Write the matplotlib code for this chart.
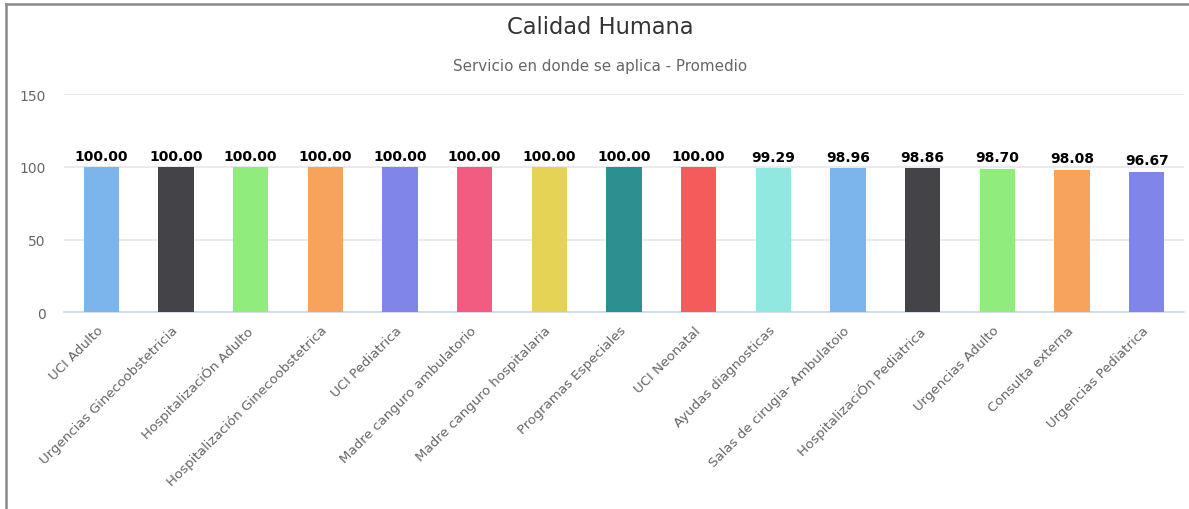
import matplotlib
matplotlib.use("Agg")
import matplotlib.pyplot as plt
from matplotlib.lines import Line2D
from matplotlib.transforms import ScaledTranslation

categories = [
    "UCI Adulto", "Urgencias Ginecoobstetricia", "HospitalizaciÓn Adulto",
    "Hospitalización Ginecoobstetrica", "UCI Pediatrica", "Madre canguro ambulatorio",
    "Madre canguro hospitalaria", "Programas Especiales", "UCI Neonatal",
    "Ayudas diagnosticas", "Salas de cirugia- Ambulatoio", "HospitalizaciÓn Pediatrica",
    "Urgencias Adulto", "Consulta externa", "Urgencias Pediatrica",
]
values = [100.00, 100.00, 100.00, 100.00, 100.00, 100.00, 100.00, 100.00, 100.00,
          99.29, 98.96, 98.86, 98.70, 98.08, 96.67]
palette = ["#7cb5ec", "#434348", "#90ed7d", "#f7a35c", "#8085e9", "#f15c80",
           "#e4d354", "#2b908f", "#f45b5b", "#91e8e1"]
colors = [palette[i % len(palette)] for i in range(len(categories))]
yticks = [0, 50, 100, 150]
title = "Calidad Humana"
subtitle = "Servicio en donde se aplica - Promedio"

plt.rcParams['font.family'] = ['DejaVu Sans']
fig = plt.figure(figsize=(11.89, 5.10), dpi=100)
ax = fig.add_axes([0.0538, 0.3857, 0.9420, 0.4280])

x = list(range(len(categories)))
bars = ax.bar(x, values, width=0.47, color=colors, zorder=3)
for xi, v in zip(x, values):
    ax.annotate(f"{v:.2f}", (xi, v), xytext=(0, 3), textcoords="offset points",
                ha="center", va="bottom", fontsize=10, fontweight="bold", color="#000000")

ax.set_xlim(-0.5, len(categories) - 0.5)
ax.set_ylim(0, 150)
ax.set_yticks(yticks)
ax.set_yticklabels([str(t) for t in yticks])
ax.yaxis.grid(True, color="#e6e6e6", linewidth=1.2, zorder=0)
ax.set_axisbelow(True)
for s in ["top", "right", "left"]:
    ax.spines[s].set_visible(False)
ax.spines["bottom"].set_color("#ccd6eb")
ax.spines["bottom"].set_linewidth(1.2)
ax.tick_params(axis="y", length=0, pad=13, labelsize=10, labelcolor="#666666")
ax.tick_params(axis="x", length=0, pad=8, labelsize=9.6, labelcolor="#666666")
ax.set_xticks(x)
ax.set_xticklabels(categories, rotation=45, ha="right", va="top", rotation_mode="anchor")
offset = ScaledTranslation(-5 / 100, 0, fig.dpi_scale_trans)
for lab in ax.get_xticklabels():
    lab.set_transform(lab.get_transform() + offset)

fig.text(0.5045, 1 - 28 / 510, title, ha="center", va="center", fontsize=16.3, color="#333333")
fig.text(0.5045, 1 - 67 / 510, subtitle, ha="center", va="center", fontsize=10.9, color="#666666")

# outer frame lines (top and left)
fig.add_artist(Line2D([6 / 1189, 1.0], [1 - 5 / 510, 1 - 5 / 510], transform=fig.transFigure,
                      color="#8a8a8a", linewidth=1.8))
fig.add_artist(Line2D([6 / 1189, 6 / 1189], [0, 1 - 5 / 510], transform=fig.transFigure,
                      color="#8a8a8a", linewidth=1.8))

fig.savefig("out.png", dpi=100)
